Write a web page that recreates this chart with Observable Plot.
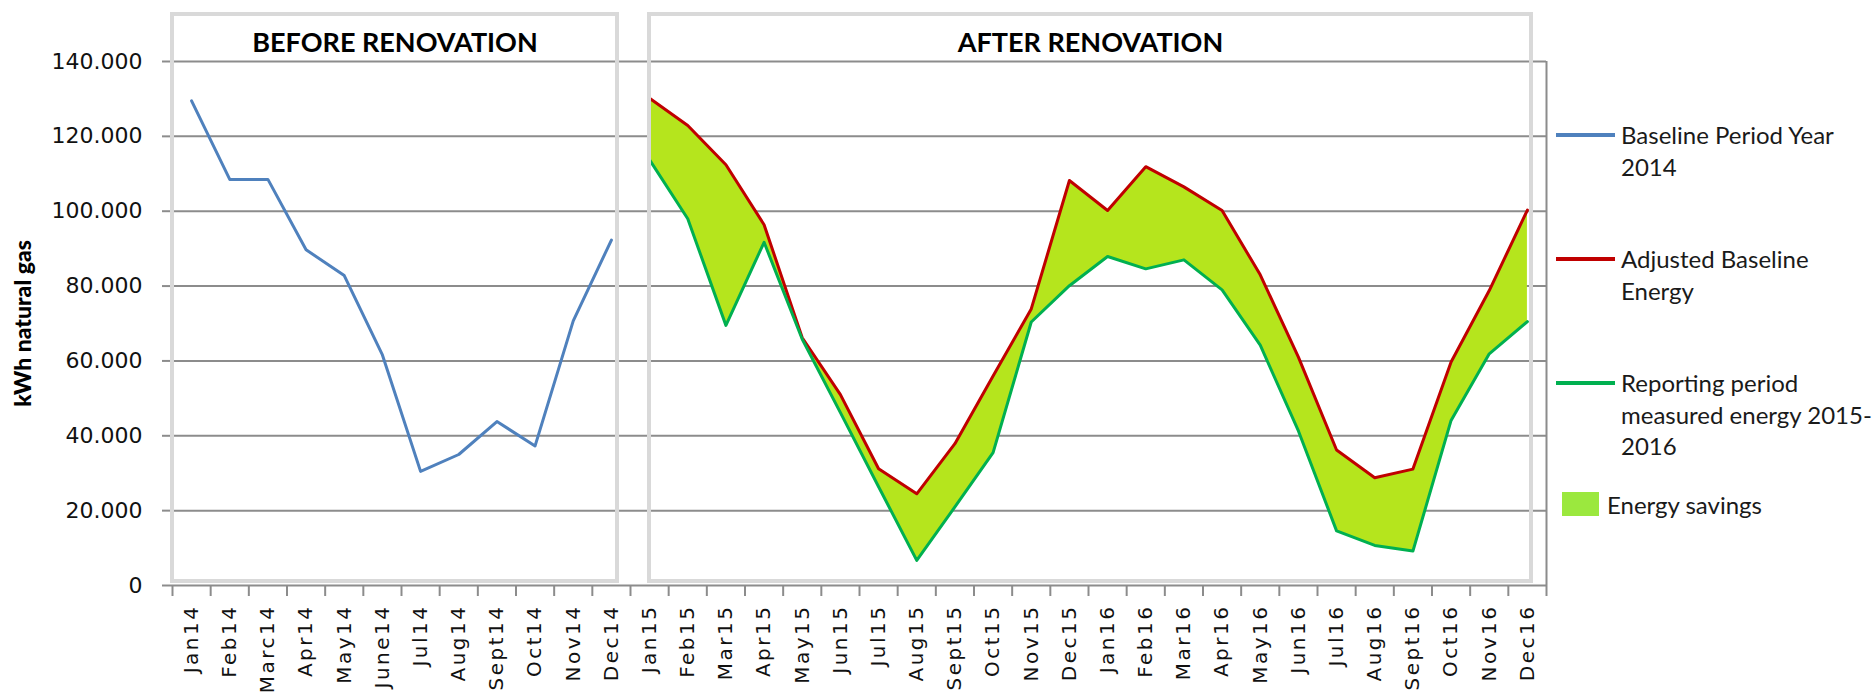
<!DOCTYPE html>
<html><head><meta charset="utf-8">
<script src="https://cdn.jsdelivr.net/npm/d3@7"></script>
<script src="https://cdn.jsdelivr.net/npm/@observablehq/plot@0.6"></script>
<style>
html,body{margin:0;padding:0;background:#fff;}
#wrap{position:relative;width:1876px;height:692px;overflow:hidden;background:#fff;}
#chart svg{display:block}
g[aria-label="x-axis tick label"] text{letter-spacing:2.5px}
g[aria-label="y-axis label"]{font-family:Lato,"Open Sans",sans-serif;font-size:23px;font-weight:900;fill:#000}
.leg{position:absolute;font-family:Lato,"Open Sans",sans-serif;font-size:24px;line-height:31.5px;color:#1a1a1a;white-space:nowrap}
.sw{position:absolute}
</style></head>
<body><div id="wrap"><div id="chart"></div><div id="legend"></div></div>
<script>
const months = ["Jan14","Feb14","Marc14","Apr14","May14","June14","Jul14","Aug14","Sept14","Oct14","Nov14","Dec14",
  "Jan15","Feb15","Mar15","Apr15","May15","Jun15","Jul15","Aug15","Sept15","Oct15","Nov15","Dec15",
  "Jan16","Feb16","Mar16","Apr16","May16","Jun16","Jul16","Aug16","Sept16","Oct16","Nov16","Dec16"];
const baselineMonths = months.slice(0, 12);
const reportingMonths = months.slice(12);
const baseline2014 = [129500,108500,108500,89700,82800,61600,30500,35000,43800,37300,70700,92300];
const adjustedBaseline = [130200,122900,112400,96400,66200,51000,31200,24500,37900,56000,73900,108200,
  100200,111900,106500,100200,83000,61000,36200,28800,31100,59700,78800,100300];
const measuredEnergy = [113700,98000,69500,91700,65800,46200,26400,6700,21000,35500,70400,80100,
  87900,84600,87000,79000,64200,41300,14600,10700,9200,44100,61900,70500];
const yTicks = [0,20000,40000,60000,80000,100000,120000,140000];
const panels = [
  {name: "BEFORE RENOVATION", first: "Jan14", last: "Dec14"},
  {name: "AFTER RENOVATION", first: "Jan15", last: "Dec16"}
];
const legendItems = [
  {kind: "line", color: "#4f81bd", lines: ["Baseline Period Year", "2014"]},
  {kind: "line", color: "#c00000", lines: ["Adjusted Baseline", "Energy"]},
  {kind: "line", color: "#00b050", lines: ["Reporting period", "measured energy 2015-", "2016"]},
  {kind: "box", color: "#9be83e", lines: ["Energy savings"]}
];

const idx = m => months.indexOf(m);
const before = baselineMonths.map((m, i) => ({x: idx(m) + 0.5, y: baseline2014[i]}));
const after = reportingMonths.map((m, i) => ({x: idx(m) + 0.5, adj: adjustedBaseline[i], meas: measuredEnergy[i]}));
const panelRows = panels.map(p => ({...p, x1: idx(p.first), x2: idx(p.last) + 1}));
const fmt = d => d === 0 ? "0" : d3.format(",")(d).replace(/,/g, ".");

const chart = Plot.plot({
  width: 1876, height: 692,
  marginLeft: 172, marginRight: 330, marginTop: 61, marginBottom: 107,
  style: {fontFamily: "DejaVu Sans", background: "white", color: "#1a1a1a", overflow: "visible"},
  x: {domain: [0, months.length], label: null},
  y: {domain: [0, 140000], label: null},
  marks: [
    Plot.ruleY(yTicks.slice(1), {stroke: "#8c8c8c", strokeWidth: 2}),
    Plot.areaY(after, {x: "x", y1: "meas", y2: "adj", fill: "#b5e51d"}),
    Plot.lineY(before, {x: "x", y: "y", stroke: "#4f81bd", strokeWidth: 3}),
    Plot.lineY(after, {x: "x", y: "adj", stroke: "#c00000", strokeWidth: 3}),
    Plot.lineY(after, {x: "x", y: "meas", stroke: "#00b050", strokeWidth: 3}),
    Plot.ruleY([0], {stroke: "#8c8c8c", strokeWidth: 2}),
    Plot.ruleX([months.length], {y1: 0, y2: 140000, stroke: "#8c8c8c", strokeWidth: 2}),
    Plot.axisX(d3.range(months.length + 1), {tickSize: 11, tickFormat: () => "", stroke: "#8c8c8c", strokeWidth: 2, label: null}),
    Plot.axisX(months.map((m, i) => i + 0.5), {tickSize: 0, tickPadding: 19, tickRotate: -90,
      tickFormat: d => months[Math.floor(d)], fontSize: 20, fill: "#111", label: null}),
    Plot.axisY(yTicks, {tickSize: 10, tickPadding: 20, tickFormat: fmt, fontSize: 22, stroke: "#8c8c8c", strokeWidth: 2, fill: "#111",
      label: "kWh natural gas", labelArrow: "none", labelAnchor: "center", labelOffset: 158}),
    Plot.rect(panelRows.slice(0, 1), {x1: "x1", x2: "x2", y1: 0, y2: 140000, insetTop: -47, insetBottom: 4, insetRight: 13,
      fill: "none", stroke: "#d9d9d9", strokeWidth: 4}),
    Plot.rect(panelRows.slice(1), {x1: "x1", x2: "x2", y1: 0, y2: 140000, insetTop: -47, insetBottom: 4, insetLeft: 19, insetRight: 15,
      fill: "none", stroke: "#d9d9d9", strokeWidth: 4}),
    Plot.text(panelRows.slice(0, 1), {x: d => (d.x1 + d.x2) / 2, y: 140000, dx: -6.5, dy: -18, text: "name",
      fontFamily: "Lato", fontWeight: "bold", fontSize: 27, fill: "#000"}),
    Plot.text(panelRows.slice(1), {x: d => (d.x1 + d.x2) / 2, y: 140000, dx: 2, dy: -18, text: "name",
      fontFamily: "Lato", fontWeight: "bold", fontSize: 27, fill: "#000"})
  ]
});
document.getElementById("chart").appendChild(chart);

// legend (HTML, right of plot area)
const legend = document.getElementById("legend");
const legendTops = [135, 259, 383, 505];
legendItems.forEach((item, k) => {
  const cy = legendTops[k];
  const sw = document.createElement("div");
  sw.className = "sw";
  if (item.kind === "line") {
    Object.assign(sw.style, {left: "1556px", top: (cy - 2) + "px", width: "59px", height: "4px", background: item.color});
  } else {
    Object.assign(sw.style, {left: "1562px", top: "492px", width: "37px", height: "24px", background: item.color});
  }
  legend.appendChild(sw);
  const t = document.createElement("div");
  t.className = "leg";
  t.style.left = (item.kind === "line" ? 1621 : 1607) + "px";
  t.style.top = (cy - 15.75) + "px";
  t.innerHTML = item.lines.join("<br>");
  legend.appendChild(t);
});
</script>
</body></html>
